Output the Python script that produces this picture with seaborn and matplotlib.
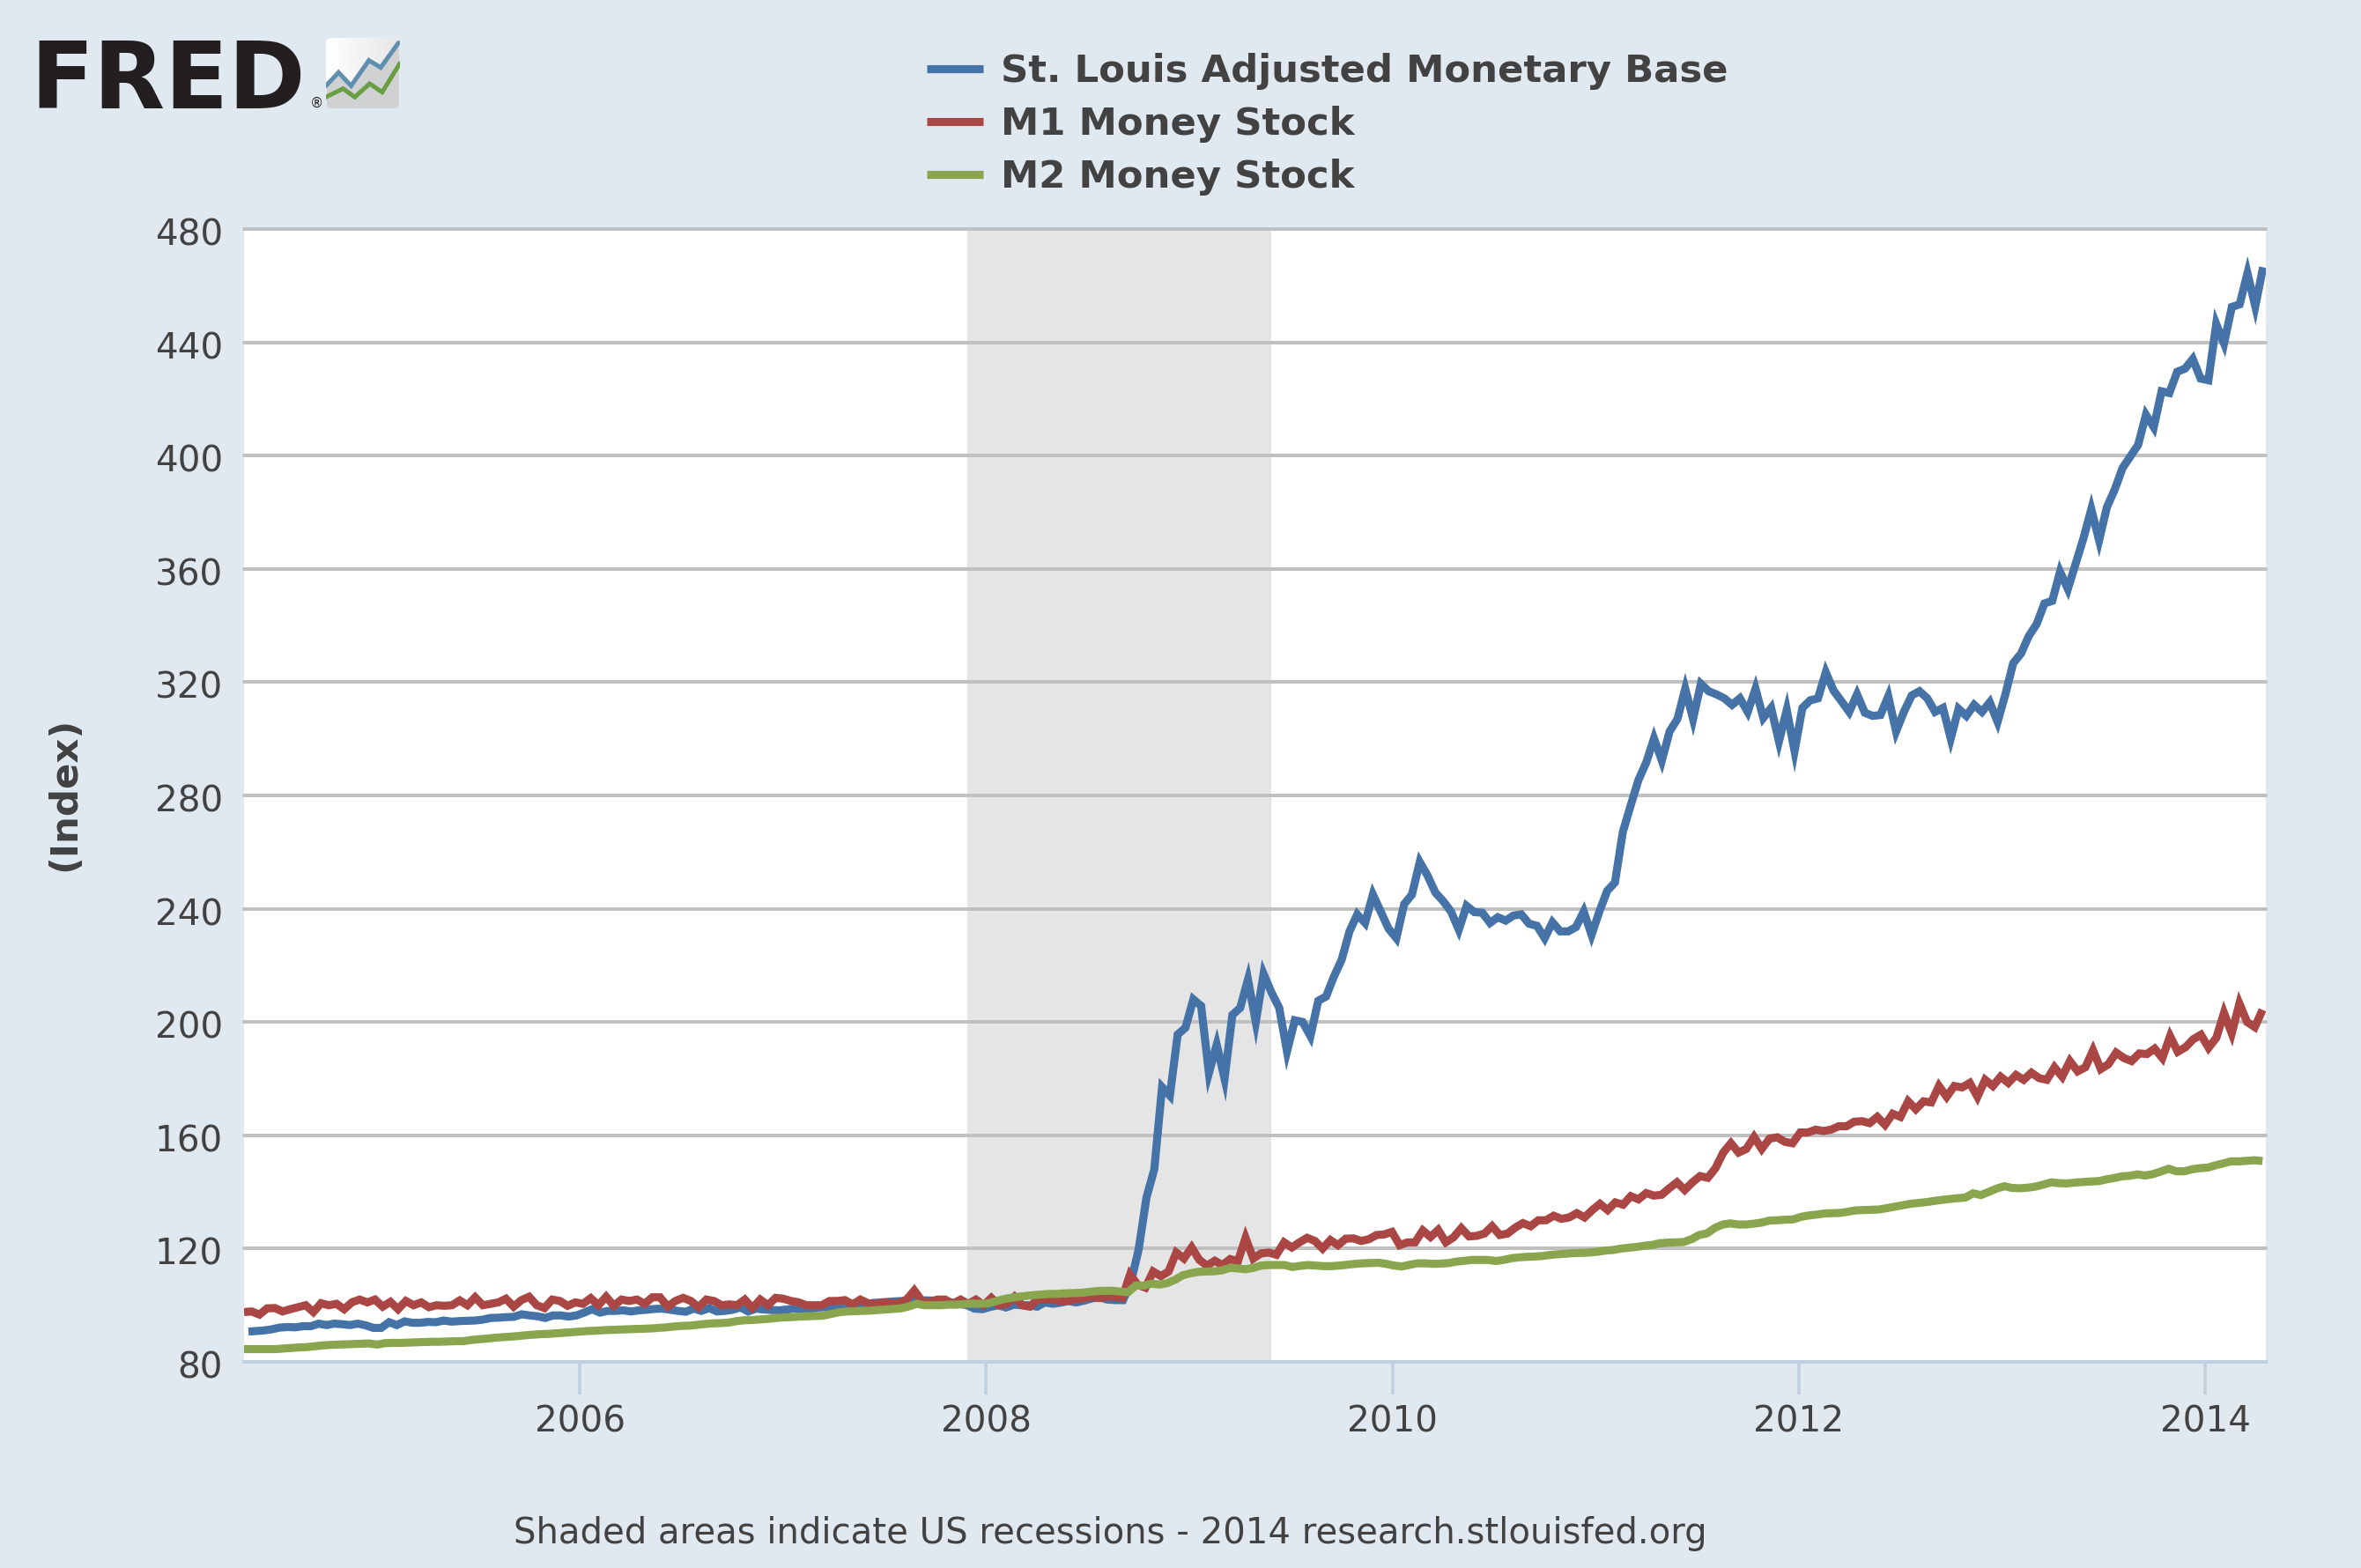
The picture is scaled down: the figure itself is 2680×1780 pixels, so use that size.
import numpy as np
import pandas as pd
import seaborn as sns
import matplotlib.pyplot as plt
import matplotlib.dates as mdates
from matplotlib.patches import FancyBboxPatch
from matplotlib.transforms import ScaledTranslation

# values, one every two weeks or so
base_values = [
    90.7, 90.9, 91.1, 91.5, 92.1, 92.3, 92.2, 92.6, 92.6, 93.5, 93.0, 93.5, 93.3, 93.0, 93.5, 92.9,
    92.0, 92.0, 94.0, 93.0, 94.3, 93.8, 93.8, 94.1, 94.0, 94.6, 94.2, 94.4, 94.5, 94.6, 94.9, 95.5,
    95.6, 95.8, 95.9, 96.8, 96.4, 96.1, 95.5, 96.4, 96.4, 96.0, 96.4, 97.4, 98.6, 97.4, 98.0, 98.0,
    98.2, 97.8, 98.2, 98.4, 98.7, 98.8, 98.4, 98.0,
    97.7, 98.8, 98.0, 99.0, 97.8, 98.0, 98.4, 99.2, 97.8, 98.8, 98.5, 98.3, 98.2, 98.5, 98.9, 98.2,
    98.6, 99.2, 99.3, 99.5, 99.5, 99.5, 100.0, 100.3, 100.8, 101.0, 101.2, 101.4, 101.5, 101.7, 101.7,
    101.7, 101.6, 101.4, 101.0, 100.5, 100.0, 98.8, 98.6, 99.4, 100.0, 99.2, 100.2, 100.0, 100.0, 99.5,
    101.0, 100.5, 100.9, 101.5, 101.0, 101.6, 102.4, 102.8, 102.0,
    101.8, 101.8, 108.0, 119.7, 138.0, 148.0, 177.0, 174.0, 195.6, 198.0, 208.0, 205.7, 182.0, 192.0,
    180.0, 202.5, 205.0, 215.0, 200.0, 217.0, 210.5, 205.0, 189.6, 200.6, 200.0, 195.0, 207.5, 209.0,
    216.0, 222.0, 232.0, 238.0, 235.0, 245.0, 239.0, 233.0, 229.6, 241.6, 245.0, 256.5, 251.7, 245.7,
    242.7, 239.0, 232.6, 241.0, 238.8, 238.6, 235.0, 237.0, 235.8, 237.6, 238.0, 234.7, 234.0, 229.6,
    235.2, 232.0, 232.0, 233.5, 239.0, 230.8, 239.0, 246.3, 249.3,
    267.0, 276.4, 285.4, 291.6, 300.1, 292.3, 302.6, 307.0, 317.7, 307.0,
    319.4, 316.8, 315.7, 314.3, 312.0, 314.3, 309.5, 317.7, 307.4, 310.9, 299.1, 310.2, 295.7, 310.9,
    313.6, 314.3, 323.5, 317.0, 313.3, 309.5, 315.7, 309.2, 308.1, 308.4, 315.0, 302.6, 309.5, 315.3,
    316.8, 314.3, 309.5, 310.9, 300.1, 310.6, 308.1, 312.0, 309.5, 312.9, 306.0, 315.7, 326.7, 330.1,
    336.3, 340.5, 347.8, 348.7, 359.0, 352.9, 361.8, 370.8, 381.1, 370.1, 381.8, 388.0, 395.6, 399.7,
    403.8, 414.4, 410.0, 422.7, 422.1, 429.6, 430.7, 434.1, 427.2, 426.6, 446.5, 439.6, 452.5, 453.4,
    464.4, 452.7, 466.5,
]
m1_values = [
    97.6, 97.8, 96.7, 98.9, 99.0, 97.8, 98.6, 99.3, 100.0, 97.6, 100.7, 100.0, 100.5, 98.6, 101.0, 102.0,
    101.0, 102.0, 99.5, 101.2, 98.6, 101.5, 100.0, 101.0, 99.3, 100.0, 99.8, 100.0, 101.7, 100.0, 102.8,
    100.0, 100.5, 101.0, 102.3, 99.5, 101.8, 103.0, 100.0, 99.0, 102.0, 101.5, 99.8, 101.0, 100.5, 102.5,
    100.0, 103.0, 99.8, 102.0, 101.5, 102.0, 100.5, 102.8, 102.8, 99.5, 101.5,
    102.6, 101.5, 99.3, 102.0, 101.5, 100.0, 100.3, 100.0, 102.0, 99.0, 102.0, 100.0, 102.6, 102.3, 101.5,
    101.0, 100.0, 100.0, 100.0, 101.5, 101.5, 101.8, 100.3, 102.0, 100.7, 100.5, 101.0, 100.7, 100.7, 102.0,
    105.2, 101.5, 101.2, 102.0, 102.0, 100.5, 102.0, 100.5, 102.0, 100.0, 102.6, 100.0, 100.5, 103.0, 100.0,
    99.5, 102.0, 102.0, 102.0, 101.5, 101.5, 102.0, 102.5, 103.0, 102.5, 103.0,
    103.0, 102.6, 110.8, 107.2, 106.2, 111.9, 110.3, 111.9, 118.6, 116.5, 120.4, 116.0, 114.0, 115.7, 114.2,
    116.3, 115.5, 123.8, 116.5, 118.3, 118.6, 117.8, 122.2, 120.4, 122.2, 123.8, 122.7, 120.0, 123.0, 121.2,
    123.5, 123.6, 122.7, 123.3, 124.8, 125.0, 125.9, 121.2, 122.2, 122.2, 126.4, 124.1, 126.6, 122.2, 124.0,
    127.2, 124.3, 124.5, 125.3, 127.9, 124.8, 125.3, 127.4, 129.0, 127.9, 130.0, 130.0, 131.6, 130.5,
    131.0, 132.5, 131.0,
    133.6, 135.8, 133.6, 136.3, 135.5, 138.5, 137.4, 139.6, 138.7, 139.0, 141.3, 143.4, 140.7, 143.4, 145.6,
    145.0, 148.4, 153.9, 157.2, 153.9, 155.2, 159.4, 155.2, 158.8, 159.3, 157.7, 157.2, 161.0, 161.0, 162.0,
    161.5, 162.0, 163.2, 163.2, 164.8, 165.0, 164.3, 166.5, 163.7, 167.6, 166.5, 172.0, 169.2, 172.0, 171.6,
    177.4, 173.6, 177.4, 176.9, 178.5, 173.6, 179.6, 177.4, 180.7, 178.5, 181.3, 179.6, 182.1, 180.2, 179.6,
    184.0, 180.7, 186.2, 182.6, 184.0, 190.0, 183.4, 185.1, 189.2, 187.3, 186.2, 188.9, 188.7, 190.6, 187.3,
    195.0, 189.5, 191.1, 193.9, 195.5, 190.9, 194.4, 203.2, 196.0, 206.5, 200.0, 198.2, 204.3,
]
m2_values = [
    84.5, 84.5, 84.5, 84.5, 84.5, 84.7, 84.9, 85.1, 85.2, 85.5, 85.8, 86.0, 86.1, 86.2, 86.3, 86.4, 86.5,
    86.1, 86.6, 86.7, 86.7, 86.8, 86.9, 87.0, 87.1, 87.1, 87.2, 87.3, 87.3, 87.7, 88.0, 88.2, 88.5, 88.7,
    88.9, 89.1, 89.4, 89.6, 89.8, 89.9, 90.1, 90.3, 90.5, 90.7, 90.9, 91.0, 91.2, 91.3, 91.4, 91.5, 91.6,
    91.7, 91.8, 92.0, 92.2, 92.5, 92.7,
    92.8, 93.1, 93.4, 93.6, 93.7, 93.9, 94.4, 94.7, 94.8, 95.0, 95.2, 95.5, 95.7, 95.8, 96.0, 96.1, 96.2,
    96.3, 96.9, 97.5, 97.8, 97.9, 98.0, 98.1, 98.3, 98.5, 98.7, 98.9, 99.6, 100.5, 100.0, 100.0, 100.0,
    100.2, 100.2, 100.4, 100.6, 100.5, 100.6, 101.3, 102.1, 102.6, 103.0, 103.3, 103.6, 103.8, 104.0, 104.0,
    104.2, 104.3, 104.4, 104.7, 105.0, 105.1, 105.1,
    104.8, 104.6, 107.0, 106.9, 107.6, 107.3, 107.8, 109.0, 110.6, 111.3, 111.8, 111.9, 112.0, 112.3, 113.2,
    113.0, 112.7, 113.2, 114.0, 114.2, 114.2, 114.2, 113.5, 113.9, 114.2, 114.0, 113.8, 113.8, 114.0, 114.3,
    114.6, 114.8, 114.9, 115.0, 114.6, 114.0, 113.7, 114.3, 114.8, 114.8, 114.6, 114.7, 114.9, 115.4, 115.7,
    116.0, 116.0, 116.0, 115.6, 116.0, 116.6, 116.9, 117.1, 117.2, 117.4, 117.8, 118.0,
    118.2, 118.4, 118.5,
    118.6, 118.9, 119.3, 119.5, 120.0, 120.3, 120.6, 121.0, 121.3, 121.9, 122.1, 122.2, 122.3, 123.3, 124.8,
    125.4, 127.3, 128.5, 128.9, 128.5, 128.5, 128.8, 129.2, 129.9, 130.0, 130.2, 130.3, 131.2, 131.7, 132.0,
    132.4, 132.5, 132.6, 133.0, 133.5, 133.6, 133.7, 133.8, 134.3, 134.8, 135.3, 135.8, 136.1, 136.4, 136.8,
    137.2, 137.5, 137.8, 138.0, 139.5, 138.9, 140.0, 141.2, 142.0, 141.4, 141.3, 141.5, 141.9, 142.6, 143.4,
    143.1, 143.0, 143.3, 143.5, 143.7, 143.8, 144.4, 144.9, 145.5, 145.7, 146.2, 145.8, 146.3, 147.2, 148.2,
    147.3, 147.3, 148.0, 148.4, 148.6, 149.4, 150.1, 150.8, 150.8, 151.0, 151.2, 150.9,
]
series_names = ['St. Louis Adjusted Monetary Base', 'M1 Money Stock', 'M2 Money Stock']
series_colors = ['#4572A7', '#AA4643', '#89A54E']
y_ticks = list(range(80, 481, 40))
x_tick_years = [2006, 2008, 2010, 2012, 2014]
recession = ('2007-11-28', '2009-05-28')

# small logo icon, 0-100 both ways
icon_x1 = [0, 17, 34, 58, 74, 98]
icon_y1 = [32, 51, 32, 68, 58, 93]
icon_x2 = [0, 23, 39, 59, 76, 100]
icon_y2 = [16, 28, 16, 35, 23, 64]

W, H = 2680, 1780
BG = '#E1E9F0'
TEXT = '#424242'
AXIS = '#C0D0E0'
LW = 3.3
PLOT_TOP = 260

sns.set_theme(style='whitegrid')
plt.rcParams['font.family'] = ['DejaVu Sans']

fig = plt.figure(figsize=(W / 200, H / 200), dpi=200, facecolor=BG)
ax = fig.add_axes([277 / W, 1 - 1546 / H, (2572 - 277) / W, (1546 - PLOT_TOP) / H], facecolor='white')

base_dates = pd.date_range('2004-05-15', '2014-04-15', periods=len(base_values))
m1_dates = pd.date_range('2004-05-07', '2014-04-14', periods=len(m1_values))
m2_dates = pd.date_range('2004-05-07', '2014-04-14', periods=len(m2_values))

ax.axvspan(pd.Timestamp(recession[0]), pd.Timestamp(recession[1]), color='#E5E5E5', lw=0, zorder=0)

for dates, values, name, color in zip([base_dates, m1_dates, m2_dates],
                                      [base_values, m1_values, m2_values],
                                      series_names, series_colors):
    sns.lineplot(x=dates, y=values, color=color, linewidth=LW, label=name, ax=ax,
                 errorbar=None, solid_joinstyle='miter', solid_capstyle='butt', zorder=3)

ax.set_xlim(pd.Timestamp('2004-05-07'), pd.Timestamp('2014-04-20'))
ax.set_ylim(80, 480)
ax.set_yticks(y_ticks)
ax.set_xticks([pd.Timestamp(f'{y}-01-01') for y in x_tick_years])
ax.xaxis.set_major_formatter(mdates.DateFormatter('%Y'))

ax.grid(False)
ax.grid(axis='y', color='#C0C0C0', linewidth=1.44)
ax.set_axisbelow(False)
for line in ax.get_ygridlines():
    line.set_clip_on(False)
    line.set_zorder(1)
ax.get_ygridlines()[0].set_visible(False)

for side in ['top', 'left', 'right']:
    ax.spines[side].set_visible(False)
ax.spines['bottom'].set_color(AXIS)
ax.spines['bottom'].set_linewidth(1.44)
ax.spines['bottom'].set_zorder(2)

ax.tick_params(axis='y', length=0, pad=8.6, labelsize=14.6, labelcolor=TEXT)
ax.tick_params(axis='x', bottom=True, length=13.3, width=1.3, color=AXIS, pad=4.2, labelsize=14.6,
               labelcolor=TEXT)
for label in ax.get_yticklabels():
    label.set_transform(label.get_transform() + ScaledTranslation(0, -3 / 200, fig.dpi_scale_trans))
ax.set_ylabel('')
ax.set_xlabel('')

handles, labels = ax.get_legend_handles_labels()
ax.legend_.remove()
fig.legend(handles, labels, loc='upper left', bbox_to_anchor=(1052 / W, 1 - 60 / H), frameon=False,
           borderpad=0, borderaxespad=0, handlelength=1.47, handletextpad=0.48, labelspacing=0.42,
           prop={'weight': 'bold', 'size': 15.6}, labelcolor=TEXT)

fig.text(73 / W, 1 - 901 / H, '(Index)', rotation=90, ha='center', va='center',
         fontsize=15.6, fontweight='bold', color=TEXT)
fig.text(1260 / W, 1 - 1741 / H, 'Shaded areas indicate US recessions - 2014 research.stlouisfed.org',
         ha='center', va='center', fontsize=14.5, color=TEXT)

# logo
fig.text(34 / W, 1 - 123 / H, 'FRED', fontweight='bold', fontsize=38, color='#231F20',
         ha='left', va='baseline')
fig.text(359 / W, 1 - 117 / H, '®', fontsize=5.5, color='#231F20', ha='center', va='center')

icon = fig.add_axes([370 / W, 1 - 123 / H, 84 / W, 80 / H])
icon.axis('off')
box = FancyBboxPatch((0, 0), 100, 100, boxstyle='round,pad=0,rounding_size=8', transform=icon.transData,
                     facecolor='none', edgecolor='none')
icon.add_patch(box)
grad = icon.imshow(np.linspace(1, 0.9, 50).reshape(1, -1), extent=(0, 100, 0, 100), aspect='auto',
                   cmap='gray', vmin=0, vmax=1, zorder=0)
grad.set_clip_path(box)
under = icon.fill_between(icon_x1, 0, icon_y1, color='#D0D1D3', lw=0, zorder=1)
under.set_clip_path(box)
icon.plot(icon_x1, icon_y1, color='#5F8FAF', lw=1.8, zorder=2, solid_joinstyle='miter')
icon.plot(icon_x2, icon_y2, color='#6A9E45', lw=1.8, zorder=2, solid_joinstyle='miter')
icon.set_xlim(0, 100)
icon.set_ylim(0, 100)

fig.savefig('out.png', dpi=200, facecolor=BG)
